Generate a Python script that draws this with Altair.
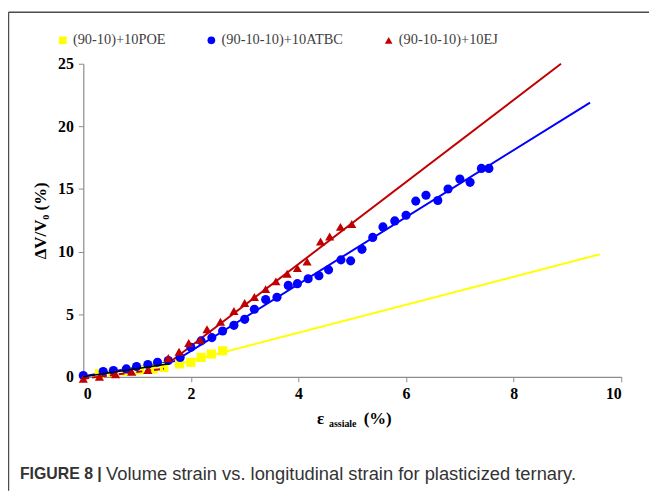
import altair as alt
import pandas as pd

# ---- data ----
series_names = ["(90-10)+10POE", "(90-10-10)+10ATBC", "(90-10-10)+10EJ"]
series_colors = ["#FFFF00", "#0000FF", "#C00000"]
series_shapes = ["square", "circle", "triangle-up"]

poe_x = [0.3, 0.55, 0.8, 1.05, 1.3, 1.5, 1.79, 2.0, 2.19, 2.38, 2.59]
poe_y = [0.25, 0.35, 0.45, 0.55, 0.62, 0.75, 1.03, 1.16, 1.55, 1.82, 2.08]

atbc_x = [0, 0.37, 0.56, 0.80, 0.99, 1.20, 1.38, 1.58, 1.80, 2.0,
          2.19, 2.39, 2.59, 2.80, 3.0, 3.18, 3.39, 3.6, 3.81, 3.98,
          4.18, 4.38, 4.56, 4.79, 4.97, 5.18, 5.38, 5.57, 5.79, 6.0,
          6.18, 6.37, 6.59, 6.78, 7.0, 7.19, 7.4, 7.54]
atbc_y = [0.1, 0.42, 0.5, 0.63, 0.82, 0.98, 1.16, 1.3, 1.55, 2.35,
          2.87, 3.13, 3.66, 4.11, 4.59, 5.4, 6.17, 6.35, 7.3, 7.44,
          7.83, 8.07, 8.54, 9.34, 9.26, 10.18, 11.13, 11.97, 12.45, 12.9,
          14.03, 14.5, 14.08, 15.0, 15.8, 15.53, 16.64, 16.64]

ej_x = [0, 0.3, 0.6, 0.9, 1.2, 1.58, 1.78, 1.96, 2.17, 2.3, 2.55, 2.8,
        3.0, 3.18, 3.39, 3.58, 3.79, 3.98, 4.16, 4.41, 4.58, 4.78, 4.99]
ej_y = [-0.15, 0.0, 0.2, 0.4, 0.55, 1.5, 2.0, 2.7, 2.95, 3.8, 4.4, 5.25,
        5.9, 6.38, 7.0, 7.62, 8.23, 8.68, 9.2, 10.8, 11.2, 11.97, 12.2]

# fitted lines
fit_poe_x = [1.7, 9.6]
fit_poe_y = [0.95, 9.78]
fit_atbc_x = [0, 1.7, 9.42]
fit_atbc_y = [0.05, 1.25, 21.9]
fit_ej_x = [1.65, 8.88]
fit_ej_y = [1.3, 25.0]
ej_dash_x = [0, 1.5]
ej_dash_y = [-0.15, 0.65]
init_x = [0, 1.6]
init_y = [0.0, 1.05]

x_ticks = [0, 2, 4, 6, 8, 10]
y_ticks = [0, 5, 10, 15, 20, 25]

caption_bold = "FIGURE 8 |"
caption_text = "Volume strain vs. longitudinal strain for plasticized ternary."

# ---- tables ----
pts = pd.concat([
    pd.DataFrame({"x": poe_x, "y": poe_y, "s": series_names[0]}),
    pd.DataFrame({"x": atbc_x, "y": atbc_y, "s": series_names[1]}),
    pd.DataFrame({"x": ej_x, "y": ej_y, "s": series_names[2]}),
], ignore_index=True)

fits = pd.concat([
    pd.DataFrame({"x": fit_poe_x, "y": fit_poe_y, "g": "poe", "c": series_colors[0]}),
    pd.DataFrame({"x": fit_atbc_x, "y": fit_atbc_y, "g": "atbc", "c": series_colors[1]}),
    pd.DataFrame({"x": fit_ej_x, "y": fit_ej_y, "g": "ej", "c": series_colors[2]}),
], ignore_index=True)
dash_df = pd.DataFrame({"x": ej_dash_x, "y": ej_dash_y})
init_df = pd.DataFrame({"x": init_x, "y": init_y})

W, H = 543, 316

xs = alt.Scale(domain=[0, 10], nice=False)
ys = alt.Scale(domain=[0, 25], nice=False)

X = alt.X("x:Q", scale=xs, axis=alt.Axis(values=x_ticks, title=None, format="d"))
Y = alt.Y("y:Q", scale=ys, axis=alt.Axis(values=y_ticks, title="ΔV/V₀ (%)", format="d"))

fit_layer = alt.Chart(fits).mark_line(strokeWidth=2).encode(
    x=X, y=Y, detail="g:N", color=alt.Color("c:N", scale=None)
)

pt_layer = alt.Chart(pts).mark_point(filled=True, opacity=1, size=85).encode(
    x=X, y=Y,
    color=alt.Color("s:N", scale=alt.Scale(domain=series_names, range=series_colors),
                    legend=alt.Legend(title=None, orient="none", direction="horizontal",
                                      legendX=-28, legendY=-31,
                                      labelFont="Liberation Serif", labelFontSize=14.5,
                                      labelColor="#404040", symbolSize=60,
                                      symbolStrokeWidth=0, labelOffset=3,
                                      columnPadding=38)),
    shape=alt.Shape("s:N", scale=alt.Scale(domain=series_names, range=series_shapes)),
)

dash_layer = alt.Chart(dash_df).mark_line(strokeWidth=2, color="#C00000", strokeDash=[6, 3]).encode(x=X, y=Y)
init_layer = alt.Chart(init_df).mark_line(strokeWidth=1.5, color="#000000").encode(x=X, y=Y)

one = pd.DataFrame({"a": [0]})
frame_top = alt.Chart(one).mark_rule(color="#4d4d4d", strokeWidth=1.5).encode(
    x=alt.value(-75.5), x2=alt.value(W + 28), y=alt.value(-52)
)
frame_left = alt.Chart(one).mark_rule(color="#4d4d4d", strokeWidth=1.5).encode(
    x=alt.value(-75.5), y=alt.value(-52), y2=alt.value(H + 115)
)

def txt(s, x, y, size, font, weight="normal", color="#000000"):
    return alt.Chart(pd.DataFrame({"t": [s]})).mark_text(
        align="left", baseline="middle", fontSize=size, font=font,
        fontWeight=weight, color=color
    ).encode(text="t:N", x=alt.value(x), y=alt.value(y))

xt1 = txt("ε", 236, 359, 17, "Liberation Serif", "bold")
xt2 = txt("assiale", 248, 364, 10, "Liberation Serif", "bold")
xt3 = txt("(%)", 283, 359, 17, "Liberation Serif", "bold")
cap1 = txt(caption_bold, -64, 414, 16, "Liberation Sans", "bold", "#333333")
cap2 = txt(caption_text, 23, 414, 18.5, "Liberation Sans", "normal", "#333333")

chart = alt.layer(
    frame_top, frame_left, fit_layer, pt_layer, dash_layer, init_layer,
    xt1, xt2, xt3, cap1, cap2
).properties(
    width=W, height=H,
    autosize=alt.AutoSizeParams(type="none"),
    padding={"left": 76, "top": 54, "right": 28, "bottom": 115},
).configure_view(stroke=None).configure_axis(
    grid=False, domainColor="#8c8c8c", tickColor="#8c8c8c", tickSize=5,
    labelFont="Liberation Serif", labelFontWeight="bold", labelFontSize=16,
    labelColor="#000000", titleFont="Liberation Serif", titleFontWeight="bold",
    titleFontSize=17, titleColor="#000000", domainWidth=1.2,
).configure_axisX(labelPadding=4).configure_axisY(labelPadding=5, titlePadding=8)

chart.save("out.html", embed_options={"renderer": "svg", "actions": False})
